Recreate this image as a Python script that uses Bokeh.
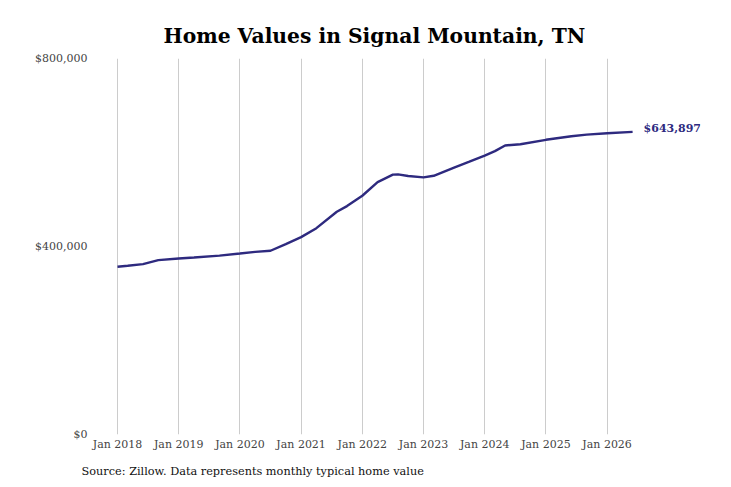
from bokeh.plotting import figure
from bokeh.models import Range1d, FixedTicker, Label, Title
from bokeh.embed import file_html
from bokeh.resources import INLINE

months = ["2018-01", "2018-03", "2018-06", "2018-09", "2019-01", "2019-04", "2019-09",
          "2020-01", "2020-04", "2020-07", "2020-10", "2021-01", "2021-04", "2021-08",
          "2021-10", "2022-01", "2022-04", "2022-07", "2022-08", "2022-10", "2023-01",
          "2023-03", "2023-07", "2023-10", "2024-01", "2024-03", "2024-05", "2024-08",
          "2025-01", "2025-06", "2025-09", "2026-01", "2026-06"]
values = [357000, 359000, 362500, 371000, 374500, 376500, 380500,
          385000, 388500, 391000, 405000, 420000, 439000, 474000,
          486000, 508000, 537000, 553000, 553500, 550000, 547000,
          550500, 568000, 580500, 593500, 603000, 615000, 617500,
          627000, 634500, 638000, 641000, 643897]
tick_years = [2018, 2019, 2020, 2021, 2022, 2023, 2024, 2025, 2026]
tick_labels = ["Jan %d" % y for y in tick_years]
y_ticks = [0, 400000, 800000]
y_labels = ["$0", "$400,000", "$800,000"]
end_label = "$643,897"
title_text = "Home Values in Signal Mountain, TN"
source_text = "Source: Zillow. Data represents monthly typical home value"

xs = [int(m[:4]) + (int(m[5:]) - 1) / 12 for m in months]

LINE = "#2e2a7f"
FONT = "DejaVu Serif"

px_per_year = 61.2
frame_left_px = 22.0   # distance from frame left to Jan 2018
frame_w = 605
x0 = 2018 - frame_left_px / px_per_year
x1 = x0 + frame_w / px_per_year

p = figure(width=731, height=487, output_backend="svg", toolbar_location=None,
           x_range=Range1d(x0, x1), y_range=Range1d(0, 800000),
           min_border_left=95, min_border_right=31, min_border_top=58, min_border_bottom=53)
p.outline_line_color = None
p.background_fill_color = "white"
p.border_fill_color = "white"

p.line(xs, values, line_color=LINE, line_width=2.4)

p.xaxis.ticker = FixedTicker(ticks=tick_years)
p.xaxis.major_label_overrides = {y: l for y, l in zip(tick_years, tick_labels)}
p.yaxis.ticker = FixedTicker(ticks=y_ticks)
p.yaxis.major_label_overrides = {v: l for v, l in zip(y_ticks, y_labels)}

for ax in (p.xaxis, p.yaxis):
    ax.axis_line_color = None
    ax.major_tick_line_color = None
    ax.minor_tick_line_color = None
    ax.major_tick_out = 0
    ax.major_tick_in = 0
    ax.minor_tick_out = 0
    ax.minor_tick_in = 0
    ax.major_label_text_font = FONT
    ax.major_label_text_font_size = "11px"
    ax.major_label_text_color = "#444444"
p.xaxis.major_label_standoff = 3
p.yaxis.major_label_standoff = 8

p.xgrid.ticker = FixedTicker(ticks=tick_years)
p.xgrid.grid_line_color = "#cccccc"
p.xgrid.grid_line_width = 1
p.ygrid.grid_line_color = None

p.add_layout(Label(x=xs[-1], y=values[-1], text=end_label, x_offset=11, y_offset=3,
                   text_baseline="middle", text_align="left",
                   text_font=FONT, text_font_size="11px", text_font_style="bold",
                   text_color=LINE))

p.title.text = title_text
p.title.align = "left"
p.title.offset = 68
p.title.text_font = FONT
p.title.text_font_size = "20.3px"
p.title.text_font_style = "bold"
p.title.text_color = "#000000"
p.title.standoff = 21

p.add_layout(Title(text=source_text, align="left", offset=-14, text_font=FONT,
                   text_font_size="11.3px", text_font_style="normal",
                   text_color="#111111", standoff=18), "below")

open("out.html", "w").write(file_html(p, INLINE))
